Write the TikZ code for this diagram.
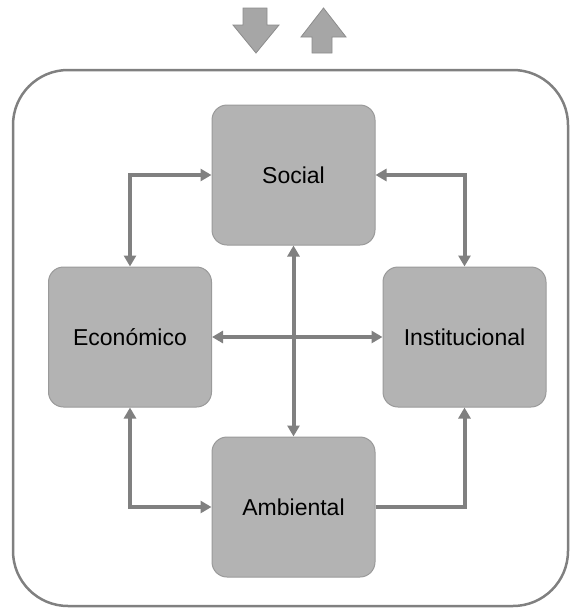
\documentclass[tikz,border=0pt]{standalone}
\usepackage{fontspec}
\setmainfont{Liberation Sans}
\usetikzlibrary{arrows.meta}
\definecolor{boxfill}{HTML}{B3B3B3}
\definecolor{boxline}{HTML}{9A9A9A}
\definecolor{connc}{HTML}{808080}
\definecolor{arrfill}{HTML}{A6A6A6}
\definecolor{arrline}{HTML}{8C8C8C}
\tikzset{
  box/.style={draw=boxline, fill=boxfill, line width=1pt, rounded corners=15pt,
    minimum width=163pt, minimum height=140pt, inner sep=0pt,
    font=\fontsize{23}{27}\selectfont},
  conn/.style={draw=connc, line width=4pt, {Triangle[width=12pt,length=11pt]}-{Triangle[width=12pt,length=11pt]}},
  conn1/.style={draw=connc, line width=4pt, -{Triangle[width=12pt,length=11pt]}},
  outer/.style={draw=connc, line width=2.5pt, rounded corners=55pt},
  bigarr/.style={draw=arrline, fill=arrfill, line width=0.8pt}
}
\begin{document}
\begin{tikzpicture}[x=1pt,y=-1pt]
\useasboundingbox (0,0) rectangle (573,611);
\draw[outer] (13,70) rectangle (568,606);
% top arrows
\draw[bigarr] (243,8) -- (267,8) -- (267,25) -- (279,25) -- (256,53) -- (233,25) -- (243,25) -- cycle;
\draw[bigarr] (312,53) -- (332,53) -- (332,37) -- (346,37) -- (323.5,8) -- (301,37) -- (312,37) -- cycle;
% boxes
\node[box] (soc) at (293.5,175) {Social};
\node[box] (eco) at (130,337) {Económico};
\node[box] (inst) at (464.5,337) {Institucional};
\node[box] (amb) at (293.5,507) {Ambiental};
% connectors
\draw[conn] (eco.north) |- (soc.west);
\draw[conn] (soc.east) -| (inst.north);
\draw[conn] (soc.south) -- (amb.north);
\draw[conn] (eco.east) -- (inst.west);
\draw[conn] (eco.south) |- (amb.west);
\draw[conn1] (amb.east) -| (inst.south);
\end{tikzpicture}
\end{document}
